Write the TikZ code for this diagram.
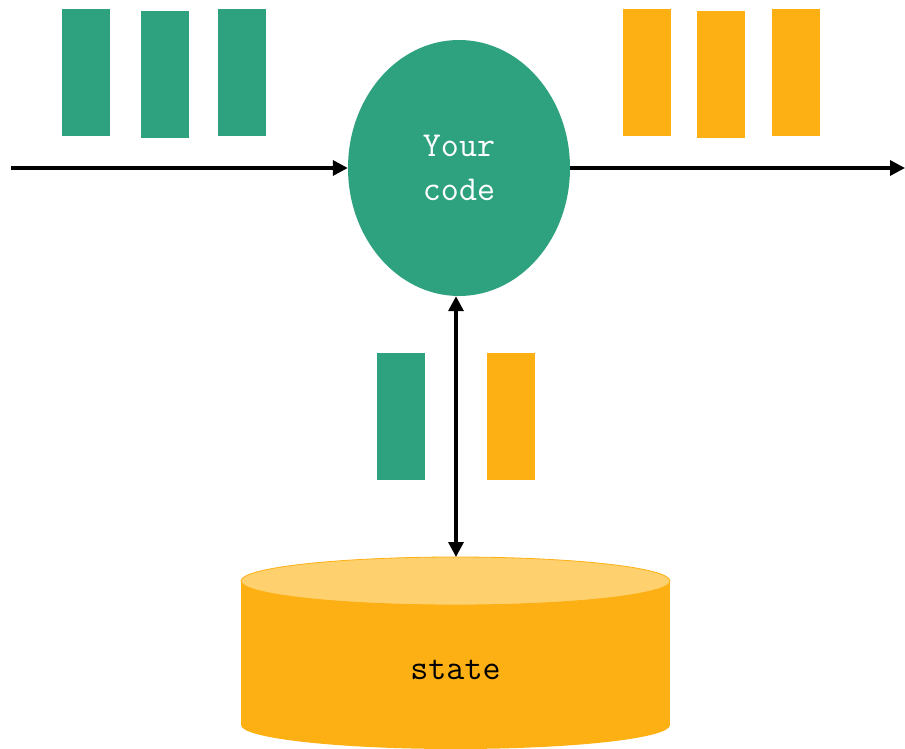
\documentclass[tikz,border=0pt]{standalone}
\usetikzlibrary{shapes.geometric,arrows.meta}
\definecolor{evgreen}{RGB}{46,161,126}
\definecolor{evorange}{RGB}{253,176,20}
\definecolor{evlight}{RGB}{254,208,110}
\tikzset{
  msg/.style={draw=none,inner sep=0pt,minimum width=48pt,minimum height=127pt},
  inmsg/.style={msg,fill=evgreen},
  outmsg/.style={msg,fill=evorange},
  tip/.style={Triangle[length=15pt,width=15pt]},
  flow/.style={line width=3.4pt,-{Triangle[length=15pt,width=15pt]}},
  lbl/.style={font=\fontsize{35}{44}\selectfont\ttfamily,align=center}
}
\begin{document}
\begin{tikzpicture}[x=1pt,y=-1pt]
\useasboundingbox (0,0) rectangle (905,749);
% incoming events
\node[inmsg] (i1) at (86,72.5) {};
\node[inmsg] (i2) at (165,74.5) {};
\node[inmsg] (i3) at (242,72.5) {};
% outgoing events
\node[outmsg] (o1) at (647,72.5) {};
\node[outmsg] (o2) at (721,74.5) {};
\node[outmsg] (o3) at (796,72.5) {};
% processing logic
\node[ellipse,fill=evgreen,minimum width=222pt,minimum height=256pt,inner sep=0pt,
      lbl,text=white] (code) at (459,168) {Your\\code};
\coordinate (src) at (11,168);
\coordinate (sink) at (905,168);
\draw[flow] (src) -- (code.west);
\draw[flow] (code.east) -- (sink);
% state access
\node[inmsg] (sr) at (401,416.5) {};
\node[outmsg] (sw) at (511,416.5) {};
% state store (cylinder)
\fill[evorange] (241,581) rectangle (670,725);
\fill[evorange] (455.5,725) ellipse [x radius=214.5,y radius=24];
\filldraw[fill=evlight,draw=evorange,line width=0.8pt] (455.5,581) ellipse [x radius=214.5,y radius=24];
\coordinate (dbtop) at (456,557);
\node[lbl,text=black] (state) at (455.5,670) {state};
\draw[line width=3.4pt,{Triangle[length=15pt,width=15pt]}-{Triangle[length=15pt,width=15pt]}]
  (dbtop |- code.south) -- (dbtop);
\end{tikzpicture}
\end{document}
